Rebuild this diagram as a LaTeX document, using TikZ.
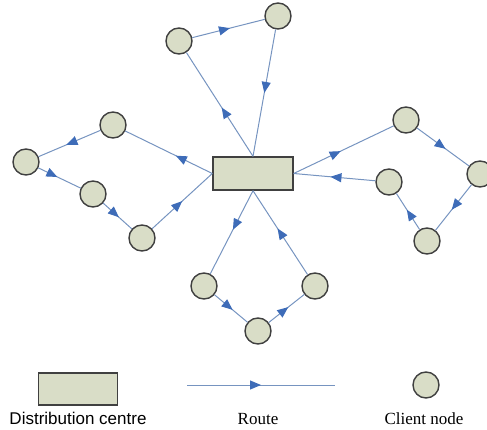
\documentclass[tikz,border=0pt]{standalone}
\usepackage{fontspec}
\setmainfont{Liberation Serif}
\setsansfont{Liberation Sans}
\usetikzlibrary{arrows.meta,decorations.markings}

\definecolor{nodefill}{RGB}{217,221,199}
\definecolor{routeline}{RGB}{118,148,192}
\definecolor{routetip}{RGB}{62,108,184}

\tikzset{
  client/.style={circle, draw=black!75, line width=1.4pt, fill=nodefill,
    minimum size=26pt, inner sep=0pt},
  centre/.style={rectangle, draw=black!75, line width=1.4pt, fill=nodefill,
    minimum width=80pt, minimum height=33pt, inner sep=0pt},
  route/.style={draw=routeline, line width=1pt, postaction={decorate},
    decoration={markings, mark=at position #1 with
      {\arrow[routetip]{Triangle[length=11pt,width=9pt]}}}},
  route/.default=0.5,
  legendtext/.style={anchor=base, font=\fontsize{17}{20}\selectfont}
}

\begin{document}
\begin{tikzpicture}[x=1pt, y=1pt]
  \useasboundingbox (0,0) rectangle (487,429);

  % distribution centre
  \node[centre] (depot) at (253,255.5) {};

  % client nodes
  \node[client] (a) at (179,388) {};
  \node[client] (b) at (278,413) {};
  \node[client] (c) at (113,304) {};
  \node[client] (d) at (26,267) {};
  \node[client] (e) at (93,235) {};
  \node[client] (f) at (142,191) {};
  \node[client] (g) at (406,309) {};
  \node[client] (h) at (480,255) {};
  \node[client] (i) at (389,247) {};
  \node[client] (j) at (427,188) {};
  \node[client] (k) at (204,143) {};
  \node[client] (l) at (258,98) {};
  \node[client] (m) at (315,143) {};

  % routes
  \path[route=0.47] (depot.north) -- (a);
  \path[route=0.52] (a) -- (b);
  \path[route=0.5] (b) -- (depot.north);

  \path[route=0.42] (depot.west) -- (c);
  \path[route=0.55] (c) -- (d);
  \path[route=0.45] (d) -- (e);
  \path[route=0.55] (e) -- (f);
  \path[route=0.5] (f) -- (depot.west);

  \path[route=0.47] (depot.east) -- (g);
  \path[route=0.55] (g) -- (h);
  \path[route=0.55] (h) -- (j);
  \path[route=0.55] (j) -- (i);
  \path[route=0.55] (i) -- (depot.east);

  \path[route=0.47] (depot.south) -- (k);
  \path[route=0.55] (k) -- (l);
  \path[route=0.55] (l) -- (m);
  \path[route=0.55] (m) -- (depot.south);

  % legend
  \node[centre, minimum width=79pt, minimum height=32pt] (keydepot) at (78,40) {};
  \node[legendtext, font=\sffamily\fontsize{17}{20}\selectfont] (keydepottext) at (78,5) {Distribution centre};
  \coordinate (keyroutestart) at (187,44);
  \coordinate (keyrouteend) at (335,44);
  \path[route=0.5] (keyroutestart) -- (keyrouteend);
  \node[legendtext] (keyroutetext) at (258,5) {Route};
  \node[client] (keyclient) at (426,44) {};
  \node[legendtext] (keyclienttext) at (424,5) {Client node};
\end{tikzpicture}
\end{document}
